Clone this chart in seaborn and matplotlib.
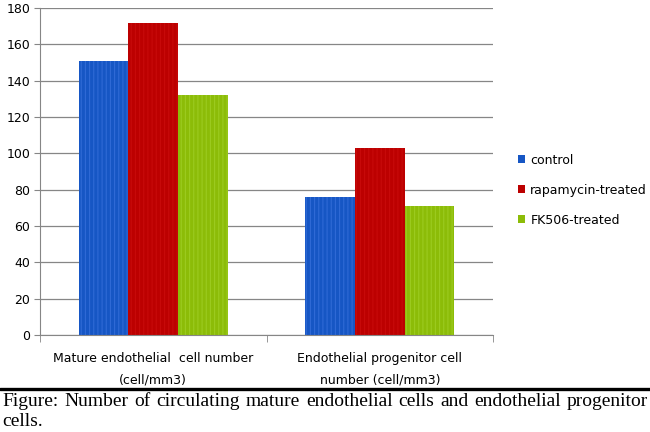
import matplotlib
matplotlib.use("Agg")
import matplotlib.pyplot as plt
import seaborn as sns
import pandas as pd

categories = ["Mature endothelial  cell number\n(cell/mm3)",
              "Endothelial progenitor cell\nnumber (cell/mm3)"]
series = ["control", "rapamycin-treated", "FK506-treated"]
control = [151, 76]
rapamycin = [172, 103]
fk506 = [132, 71]
colors = ["#1656C4", "#BC0000", "#8CBC08"]
stripe_colors = ["#2F6AD6", "#C80A0A", "#9CCB20"]
caption_words = "Figure: Number of circulating mature endothelial cells and endothelial progenitor".split()
caption_last = "cells."

rows = []
for s, vals in zip(series, [control, rapamycin, fk506]):
    for c, v in zip(categories, vals):
        rows.append({"category": c, "series": s, "value": v})
df = pd.DataFrame(rows)

sns.set_style("white")
plt.rcParams['font.family'] = ['DejaVu Sans']
plt.rcParams['hatch.linewidth'] = 0.8

fig = plt.figure(figsize=(6.5, 4.32), dpi=100)
ax = fig.add_axes([40/650, 1-335/432, 453/650, 327/432])

sns.barplot(data=df, x="category", y="value", hue="series", hue_order=series,
            palette=colors, width=0.66, ax=ax, saturation=1, legend=True,
            edgecolor="none", linewidth=0)

for cont, sc in zip(ax.containers, stripe_colors):
    for p in cont:
        p.set_hatch("||||")
        p.set_edgecolor(sc)
        p.set_linewidth(0)

ax.set_ylim(0, 180)
ax.set_yticks(range(0, 181, 20))
ax.set_xlim(-0.5, 1.5)
ax.yaxis.grid(True, color="#868686", linewidth=0.9)
ax.set_axisbelow(True)
ax.set_xlabel("")
ax.set_ylabel("")
for side in ["top", "right"]:
    ax.spines[side].set_visible(False)
ax.spines["left"].set_color("#868686")
ax.spines["bottom"].set_color("#868686")
ax.tick_params(axis="y", labelsize=9, length=4, color="#868686", left=True, pad=3,
               labelcolor="black")
ax.tick_params(axis="x", labelsize=9, length=0, pad=12, labelcolor="black")
for t in ax.get_xticklabels():
    t.set_linespacing(1.9)
ax.set_xticks([-0.5, 0.5, 1.5], minor=True)
ax.tick_params(axis="x", which="minor", length=5, color="#868686", bottom=True)

leg = ax.legend(loc="center left", bbox_to_anchor=(1.03, 0.443), frameon=False,
                fontsize=9, handlelength=0.6, handleheight=0.6,
                labelspacing=1.35, handletextpad=0.4)
for h in leg.legend_handles:
    h.set_hatch(None)
for t in leg.get_texts():
    t.set_color("black")

# caption
fig.add_artist(plt.Line2D([0, 1], [1-389/432, 1-389/432], color="black",
                          linewidth=2.4, transform=fig.transFigure))
cap_kw = dict(fontsize=14, family="Liberation Serif", va="baseline", ha="left",
              color="black")
fig.canvas.draw()
renderer = fig.canvas.get_renderer()
texts = [fig.text(0, 1-406/432, w, **cap_kw) for w in caption_words]
widths = [t.get_window_extent(renderer).width for t in texts]
x0, x1 = 2, 648
gap = (x1 - x0 - sum(widths)) / (len(texts) - 1)
x = x0
for t, w in zip(texts, widths):
    t.set_x(x / 650)
    x += w + gap
fig.text(2/650, 1-426/432, caption_last, **cap_kw)

fig.savefig("out.png", dpi=100)
